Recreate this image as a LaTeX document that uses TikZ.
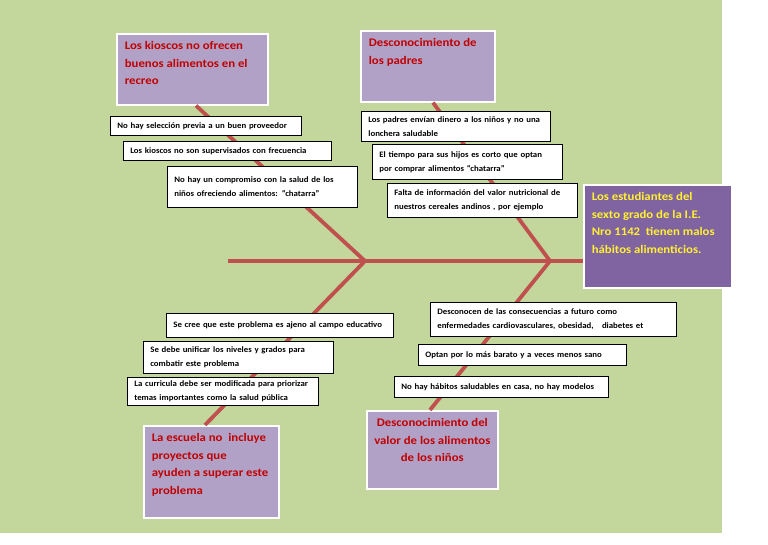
\documentclass[tikz,border=0pt]{standalone}
\usepackage{fontspec}
\setmainfont{Carlito}
\newfontfamily\causefont[FakeStretch=1.1]{Carlito}
\newfontfamily\notefont[FakeStretch=1.06]{Carlito}
\usepackage{tikz}
\usetikzlibrary{positioning,calc,shadows}
\usepackage{xcolor}
\definecolor{leaf}{HTML}{C3D69B}
\definecolor{bonered}{HTML}{C0504D}
\definecolor{lilac}{HTML}{B2A1C7}
\definecolor{violet}{HTML}{8064A2}
\definecolor{causered}{HTML}{C00000}
\definecolor{gold}{HTML}{FFF030}

\begin{document}
\begin{tikzpicture}[x=1pt,y=-1pt,
    bone/.style={draw=bonered,line width=3.8pt},
    cause/.style={fill=lilac,draw=white,line width=1.6pt,anchor=north west,inner sep=8pt,
      font=\causefont\fontsize{11.6}{17.5}\selectfont\bfseries,text=causered,
      drop shadow={shadow xshift=1.6pt,shadow yshift=-1.6pt,opacity=0.35}},
    note/.style={fill=white,draw=black,line width=0.7pt,anchor=north west,align=left,
      inner xsep=7pt,inner ysep=0pt,text width=#1,font=\notefont\fontsize{8.3}{14}\selectfont\bfseries}]
  \useasboundingbox (0,0) rectangle (768,544);
  \fill[leaf] (0,0) rectangle (722,533);

  \node[cause] (kiosk) at (116,33) {\parbox[c][55pt][t]{135pt}{\raggedright Los kioscos no ofrecen\\ buenos alimentos en el\\ recreo}};
  \node[cause] (padres) at (360,30) {\parbox[c][55pt][t]{118pt}{\raggedright Desconocimiento de\\ los padres}};
  \node[cause,fill=violet,text=gold] (effect) at (583,184) {\parbox[c][87pt][t]{132pt}{\raggedright Los estudiantes del\\ sexto grado de la I.E.\\ Nro 1142~ tienen malos\\ hábitos alimenticios.}};
  \node[cause] (escuela) at (143,425) {\parbox[c][76pt][t]{119pt}{\raggedright La escuela no~ incluye\\ proyectos que\\ ayuden a superar este\\ problema}};
  \node[cause,inner xsep=2pt] (valor) at (366,410) {\parbox[c][62pt][t]{127pt}{\centering Desconocimiento del\\ valor de los alimentos\\ de los niños}};

  \coordinate (tail) at (228,261);
  \coordinate (jL) at (365,261);
  \coordinate (jR) at (550,261);
  \draw[bone] (tail) -- (tail -| effect.west);
  \draw[bone] ($(kiosk.south west)+(80,0)$) -- (jL) -- ($(escuela.north west)+(62,0)$);
  \draw[bone] ($(padres.south west)+(73,0)$) -- (jR) -- ($(valor.north west)+(64,0)$);

  \node[note=177pt,minimum height=19pt] (a1) at (110,116) {No hay selección previa a un buen proveedor};
  \node[note=194pt,minimum height=19pt] (a2) at (123,141) {Los kioscos no son supervisados con frecuencia};
  \node[note=176pt,minimum height=41pt] (a3) at (167,166) {No hay un compromiso con la salud de los\\ niños ofreciendo alimentos: “chatarra”};
  \node[note=175pt,minimum height=30pt] (b1) at (361,111) {Los padres\ envían dinero a los niños y no una\\ lonchera saludable};
  \node[note=176pt,minimum height=35pt] (b2) at (372,144) {El tiempo para sus hijos es corto que optan\\ por comprar alimentos “chatarra”};
  \node[note=176pt,minimum height=34pt] (b3) at (387,183) {Falta de información del valor nutricional de\\ nuestros cereales andinos , por ejemplo};
  \node[note=213pt,minimum height=24pt] (c1) at (166,313) {Se cree que este problema es ajeno al campo educativo};
  \node[note=176pt,minimum height=32pt] (c2) at (143,341) {Se debe unificar los niveles y grados para\\ combatir este problema};
  \node[note=177pt,minimum height=28pt] (c3) at (127,377) {La curricula debe ser modificada para priorizar\\ temas importantes como la salud pública};
  \node[note=232pt,minimum height=34pt] (d1) at (430,302) {Desconocen de las consecuencias a futuro como\\ enfermedades\ cardiovasculares, obesidad, \ \ diabetes et};
  \node[note=194pt,minimum height=21pt] (d2) at (418,344) {Optan por lo más barato y a veces menos sano};
  \node[note=200pt,minimum height=21pt] (d3) at (394,376) {No hay hábitos saludables en casa, no hay modelos};
\end{tikzpicture}
\end{document}
